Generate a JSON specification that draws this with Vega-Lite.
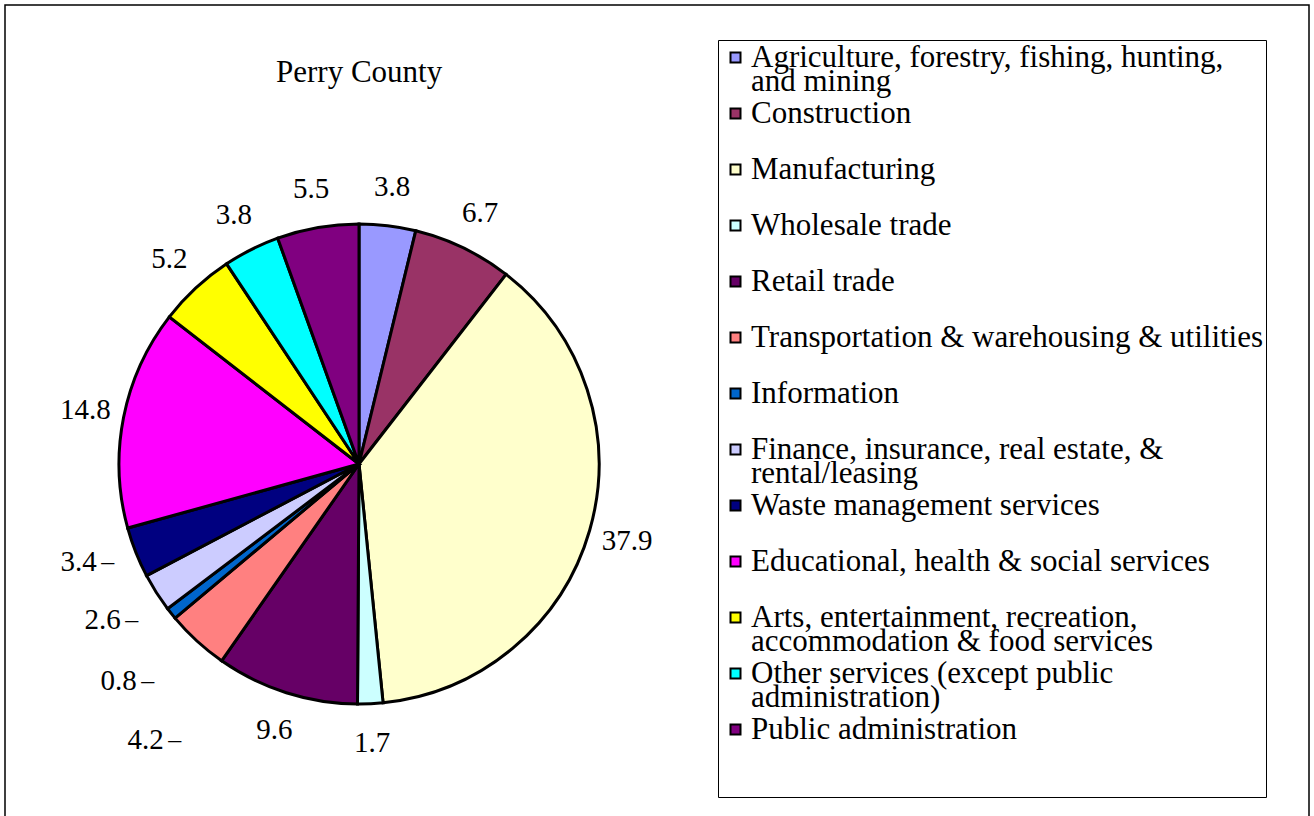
{
  "$schema": "https://vega.github.io/schema/vega-lite/v6.json",
  "width": 1304,
  "height": 830,
  "autosize": {"type": "none"},
  "padding": {"left": 5, "top": 5, "right": 5, "bottom": 0},
  "background": "white",
  "view": {"stroke": "black", "strokeWidth": 1.5, "fill": "white"},
  "config": {"font": "Liberation Serif"},
  "title": {"text": "Perry County", "anchor": "start", "dx": 271, "offset": -84, "fontSize": 31, "fontWeight": "normal", "font": "Liberation Serif", "color": "black"},
  "data": {"values": [
    {"industry": "Agriculture, forestry, fishing, hunting, and mining", "pct": 3.8},
    {"industry": "Construction", "pct": 6.7},
    {"industry": "Manufacturing", "pct": 37.9},
    {"industry": "Wholesale trade", "pct": 1.7},
    {"industry": "Retail trade", "pct": 9.6},
    {"industry": "Transportation & warehousing & utilities", "pct": 4.2},
    {"industry": "Information", "pct": 0.8},
    {"industry": "Finance, insurance, real estate, & rental/leasing", "pct": 2.6},
    {"industry": "Waste management services", "pct": 3.4},
    {"industry": "Educational, health & social services", "pct": 14.8},
    {"industry": "Arts, entertainment, recreation, accommodation & food services", "pct": 5.2},
    {"industry": "Other services (except public administration)", "pct": 3.8},
    {"industry": "Public administration", "pct": 5.5}
  ]},
  "transform": [{"window": [{"op": "row_number", "as": "idx"}]}],
  "encoding": {
    "theta": {"field": "pct", "type": "quantitative", "stack": true},
    "order": {"field": "idx", "type": "quantitative"}
  },
  "layer": [
    {
      "mark": {"type": "arc", "outerRadius": 240, "stroke": "black", "strokeWidth": 3, "x": 354, "y": 459},
      "encoding": {
        "color": {
          "field": "industry", "type": "nominal",
          "scale": {
            "domain": ["Agriculture, forestry, fishing, hunting, and mining", "Construction", "Manufacturing", "Wholesale trade", "Retail trade", "Transportation & warehousing & utilities", "Information", "Finance, insurance, real estate, & rental/leasing", "Waste management services", "Educational, health & social services", "Arts, entertainment, recreation, accommodation & food services", "Other services (except public administration)", "Public administration"],
            "range": ["#9999FF", "#993366", "#FFFFCC", "#CCFFFF", "#660066", "#FF8080", "#0066CC", "#CCCCFF", "#000080", "#FF00FF", "#FFFF00", "#00FFFF", "#800080"]
          },
          "legend": {
            "title": " ", "titleOrient": "bottom", "titleFontSize": 20, "titlePadding": 6,
            "orient": "none", "legendX": 713, "legendY": 35,
            "symbolType": "square", "symbolSize": 100, "symbolStrokeColor": "black", "symbolStrokeWidth": 2,
            "labelFont": "Liberation Serif", "labelFontSize": 31, "labelLimit": 700, "labelColor": "black",
            "labelOffset": 0, "rowPadding": 0, "strokeColor": "black", "fillColor": "white", "padding": 2,
            "encode": {"labels": {"update": {"lineHeight": {"value": 24.3}}}},
            "labelExpr": "datum.label == 'Agriculture, forestry, fishing, hunting, and mining' ? ['Agriculture, forestry, fishing, hunting,', 'and mining'] : datum.label == 'Finance, insurance, real estate, & rental/leasing' ? ['Finance, insurance, real estate, &', 'rental/leasing'] : datum.label == 'Arts, entertainment, recreation, accommodation & food services' ? ['Arts, entertainment, recreation,', 'accommodation & food services'] : datum.label == 'Other services (except public administration)' ? ['Other services (except public', 'administration)'] : [datum.label, ' ']"
          }
        }
      }
    },
    {
      "mark": {"type": "text", "x": 354, "y": 459, "radius": 279, "fontSize": 29, "font": "Liberation Serif", "color": "black"},
      "encoding": {
        "text": {"field": "pct", "type": "quantitative", "format": ".1f", "condition": {"test": "datum.idx >= 6 && datum.idx <= 9", "value": ""}}
      }
    },
    {
      "mark": {"type": "text", "x": 354, "y": 459, "radius": 349, "thetaOffset": -0.084, "fontSize": 29, "font": "Liberation Serif", "color": "black"},
      "encoding": {
        "text": {"field": "pct", "type": "quantitative", "format": ".1f", "condition": {"test": "datum.idx != 6", "value": ""}}
      }
    },
    {
      "mark": {"type": "text", "x": 354, "y": 459, "radius": 349, "thetaOffset": -0.084, "dx": 29, "fontSize": 26, "font": "Liberation Serif", "color": "black"},
      "encoding": {
        "text": {"condition": {"test": "datum.idx == 6", "value": "–"}, "value": ""}
      }
    },
    {
      "mark": {"type": "text", "x": 354, "y": 459, "radius": 324, "thetaOffset": -0.063, "fontSize": 29, "font": "Liberation Serif", "color": "black"},
      "encoding": {
        "text": {"field": "pct", "type": "quantitative", "format": ".1f", "condition": {"test": "datum.idx != 7", "value": ""}}
      }
    },
    {
      "mark": {"type": "text", "x": 354, "y": 459, "radius": 324, "thetaOffset": -0.063, "dx": 29, "fontSize": 26, "font": "Liberation Serif", "color": "black"},
      "encoding": {
        "text": {"condition": {"test": "datum.idx == 7", "value": "–"}, "value": ""}
      }
    },
    {
      "mark": {"type": "text", "x": 354, "y": 459, "radius": 300, "thetaOffset": 0.019, "fontSize": 29, "font": "Liberation Serif", "color": "black"},
      "encoding": {
        "text": {"field": "pct", "type": "quantitative", "format": ".1f", "condition": {"test": "datum.idx != 8", "value": ""}}
      }
    },
    {
      "mark": {"type": "text", "x": 354, "y": 459, "radius": 300, "thetaOffset": 0.019, "dx": 29, "fontSize": 26, "font": "Liberation Serif", "color": "black"},
      "encoding": {
        "text": {"condition": {"test": "datum.idx == 8", "value": "–"}, "value": ""}
      }
    },
    {
      "mark": {"type": "text", "x": 354, "y": 459, "radius": 297, "thetaOffset": 0.04, "fontSize": 29, "font": "Liberation Serif", "color": "black"},
      "encoding": {
        "text": {"field": "pct", "type": "quantitative", "format": ".1f", "condition": {"test": "datum.idx != 9", "value": ""}}
      }
    },
    {
      "mark": {"type": "text", "x": 354, "y": 459, "radius": 297, "thetaOffset": 0.04, "dx": 29, "fontSize": 26, "font": "Liberation Serif", "color": "black"},
      "encoding": {
        "text": {"condition": {"test": "datum.idx == 9", "value": "–"}, "value": ""}
      }
    }
  ]
}
